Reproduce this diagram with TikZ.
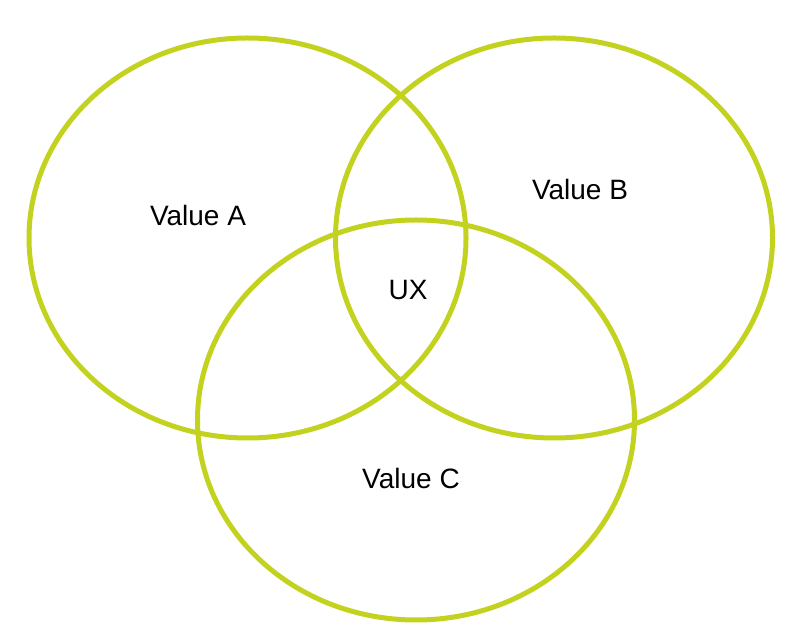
\documentclass[tikz,border=0pt]{standalone}
\usepackage{fontspec}
\setmainfont{Liberation Sans}
\usepackage{tikz}
\usetikzlibrary{shapes.geometric,positioning}
\definecolor{vennlime}{HTML}{C2D21E}

\begin{document}
\begin{tikzpicture}[
    x=1pt, y=1pt,
    circ/.style={ellipse, draw=vennlime, line width=5pt, minimum width=437pt, minimum height=400pt, inner sep=0pt},
    lbl/.style={font=\fontsize{28}{32}\selectfont, text=black}
]
\useasboundingbox (0,0) rectangle (789,631);

% Sets
\node[circ] (seta) at (247.5,393) {};
\node[circ] (setb) at (554,393) {};
\node[circ] (setc) at (416,211) {};

% Labels
\node[lbl] (vala) at (198,416) {Value A};
\node[lbl] (valb) at (580,441) {Value B};
\node[lbl] (valc) at (411,153) {Value C};
\node[lbl] (ux) at (408,341) {UX};

\end{tikzpicture}
\end{document}
